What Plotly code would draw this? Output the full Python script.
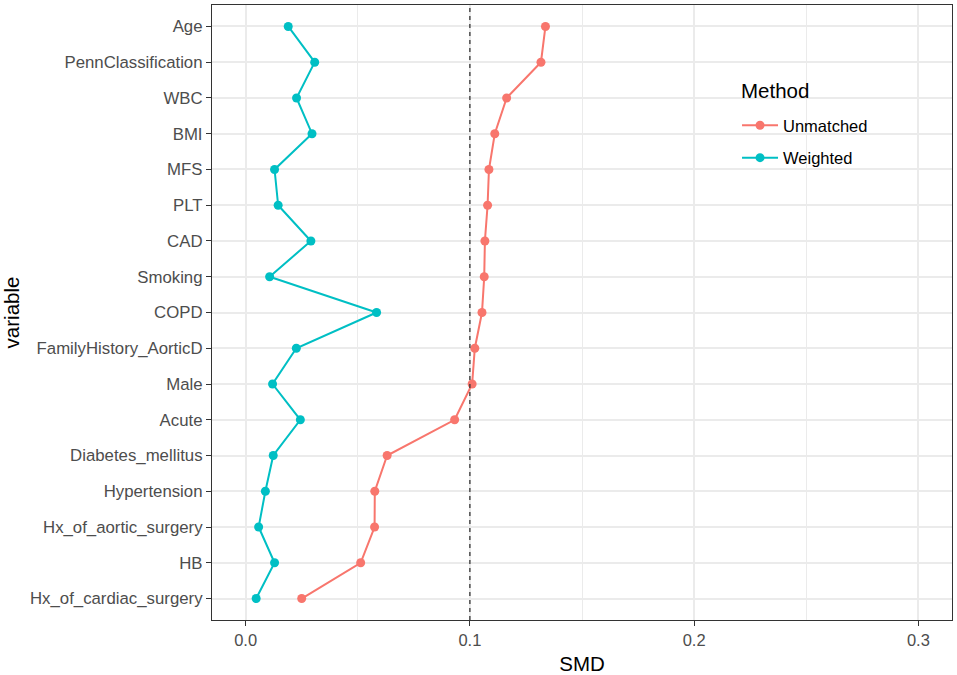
import plotly.graph_objects as go

variables = ["Age", "PennClassification", "WBC", "BMI", "MFS", "PLT", "CAD", "Smoking",
             "COPD", "FamilyHistory_AorticD", "Male", "Acute", "Diabetes_mellitus",
             "Hypertension", "Hx_of_aortic_surgery", "HB", "Hx_of_cardiac_surgery"]
unmatched = [0.1337, 0.1317, 0.1164, 0.1111, 0.1085, 0.1079, 0.1067, 0.1064,
             0.1054, 0.1022, 0.1010, 0.0932, 0.0631, 0.0576, 0.0575, 0.0513, 0.0250]
weighted = [0.0190, 0.0308, 0.0227, 0.0296, 0.0129, 0.0145, 0.0291, 0.0107,
            0.0584, 0.0226, 0.0120, 0.0244, 0.0123, 0.0088, 0.0058, 0.0129, 0.0047]
threshold = 0.1
x_ticks = [0.0, 0.1, 0.2, 0.3]
x_tick_labels = ["0.0", "0.1", "0.2", "0.3"]
minor_x = [0.05, 0.15, 0.25]

FONT = "Liberation Sans, Arial, sans-serif"
RED = "#F8766D"
TEAL = "#00BFC4"

fig = go.Figure()
fig.add_trace(go.Scatter(x=unmatched, y=variables, mode="lines+markers", name="Unmatched",
                         legendgroup="u",
                         line=dict(color=RED, width=2), marker=dict(color=RED, size=9)))
fig.add_trace(go.Scatter(x=weighted, y=variables, mode="lines+markers", name="Weighted",
                         legendgroup="w",
                         line=dict(color=TEAL, width=2), marker=dict(color=TEAL, size=9)))

fig.add_shape(type="line", xref="x", yref="paper", x0=threshold, x1=threshold, y0=0, y1=1,
              line=dict(color="#333333", width=1.3, dash="4px,4px"), layer="above")

fig.add_annotation(text="Method", xref="paper", yref="paper", x=0.712, y=0.8605,
                   xanchor="left", yanchor="middle", showarrow=False,
                   font=dict(size=20.5, color="black", family=FONT))

fig.update_layout(
    width=957, height=675,
    margin=dict(l=212.3, r=3.7, t=3.3, b=50),
    paper_bgcolor="white", plot_bgcolor="white",
    font=dict(family=FONT, color="black"),
    showlegend=True,
    legend=dict(
        x=0.7095, y=0.8325, xanchor="left", yanchor="top",
        bgcolor="rgba(0,0,0,0)",
        font=dict(size=16.5, color="black"),
        tracegroupgap=8,
        itemwidth=36,
    ),
    xaxis=dict(
        range=[-0.015, 0.315],
        tickvals=x_ticks, ticktext=x_tick_labels,
        tickfont=dict(size=16.5, color="#4D4D4D"),
        ticks="outside", ticklen=5, tickcolor="#333333", tickwidth=1.2,
        showgrid=True, gridcolor="#EBEBEB", gridwidth=1.5,
        minor=dict(tickvals=minor_x, showgrid=True, gridcolor="#EBEBEB", gridwidth=1, ticks=""),
        zeroline=False,
        showline=True, linecolor="#333333", linewidth=1.2, mirror=True,
        title=dict(text="SMD", font=dict(size=20.5, color="black"), standoff=8),
    ),
    yaxis=dict(
        type="category",
        categoryorder="array", categoryarray=variables[::-1],
        range=[-0.6, len(variables) - 0.4],
        tickfont=dict(size=16.8, color="#4D4D4D"),
        ticks="outside", ticklen=5, tickcolor="#333333", tickwidth=1.2,
        showgrid=True, gridcolor="#EBEBEB", gridwidth=1.5,
        zeroline=False,
        showline=True, linecolor="#333333", linewidth=1.2, mirror=True,
        title=dict(text="variable", font=dict(size=20.5, color="black"), standoff=8),
    ),
)

fig.write_html("out.html",
               config={"displayModeBar": False},
               post_script="document.body.style.margin='0';document.body.style.overflow='hidden';")
